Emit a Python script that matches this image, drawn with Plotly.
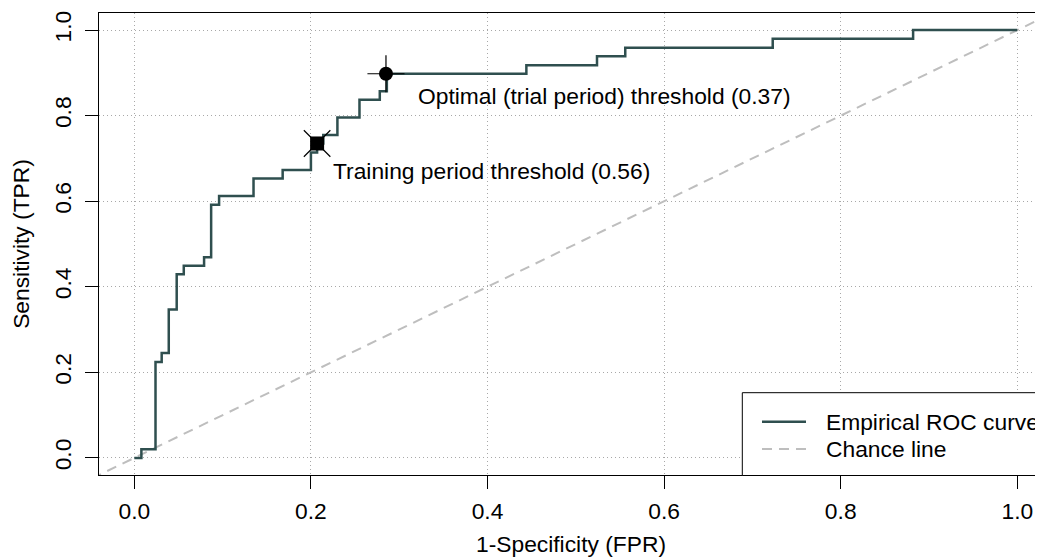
import plotly.graph_objects as go

# ---- data ----
roc_fpr = [0.000, 0.008, 0.024, 0.031, 0.039, 0.048, 0.056, 0.079, 0.087, 0.096,
           0.135, 0.168, 0.200, 0.207, 0.214, 0.230, 0.255, 0.278, 0.286,
           0.444, 0.524, 0.556, 0.723, 0.882, 1.000]
roc_tpr = [0.000, 0.020, 0.224, 0.245, 0.347, 0.429, 0.449, 0.469, 0.592, 0.612,
           0.653, 0.673, 0.714, 0.735, 0.755, 0.796, 0.837, 0.857, 0.898,
           0.918, 0.939, 0.959, 0.980, 1.000, 1.000]

chance = [-0.1, 1.1]

optimal_point = [0.285, 0.898]
training_point = [0.207, 0.735]
optimal_label = "Optimal (trial period) threshold (0.37)"
training_label = "Training period threshold (0.56)"

tick_vals = [0.0, 0.2, 0.4, 0.6, 0.8, 1.0]
tick_text = ["0.0", "0.2", "0.4", "0.6", "0.8", "1.0"]

legend_names = ["Empirical ROC curve", "Chance line"]

# ---- style ----
FONT = "Liberation Sans, Arial, Helvetica, sans-serif"
FS = 22.8
CURVE = "#2F4F4F"
CHANCE = "#BEBEBE"
GRID = "#a8a8a8"

# page has an 8px body margin: size the figure so it fills the 1043x557 window
OFF = 8
W, H = 1043 - OFF, 557 - OFF
ML, MR, MT, MB = 91, 0, 5, 82
pw, ph = W - ML - MR, H - MT - MB

fig = go.Figure()

fig.add_trace(go.Scatter(x=chance, y=chance, mode="lines",
                         line=dict(color=CHANCE, width=2, dash="10px,7px"),
                         showlegend=False, hoverinfo="skip"))
fig.add_trace(go.Scatter(x=roc_fpr, y=roc_tpr, mode="lines", line_shape="hv",
                         line=dict(color=CURVE, width=2.5), showlegend=False))

# optimal threshold: filled circle + thin cross
fig.add_trace(go.Scatter(x=[optimal_point[0]], y=[optimal_point[1]], mode="markers",
                         marker=dict(symbol="circle", size=14, color="black"),
                         showlegend=False))
fig.add_trace(go.Scatter(x=[optimal_point[0]], y=[optimal_point[1]], mode="markers",
                         marker=dict(symbol="cross-thin", size=26.5,
                                     line=dict(color="black", width=1.2)),
                         showlegend=False))
# training threshold: filled square + thin x
fig.add_trace(go.Scatter(x=[training_point[0]], y=[training_point[1]], mode="markers",
                         marker=dict(symbol="square", size=14, color="black"),
                         showlegend=False))
fig.add_trace(go.Scatter(x=[training_point[0]], y=[training_point[1]], mode="markers",
                         marker=dict(symbol="x-thin", size=26.5,
                                     line=dict(color="black", width=1.2)),
                         showlegend=False))

annotations = [
    dict(x=0.319, y=0.845, xref="x", yref="y", text=optimal_label, showarrow=False,
         xanchor="left", yanchor="middle", font=dict(family=FONT, size=FS, color="black")),
    dict(x=0.2225, y=0.670, xref="x", yref="y", text=training_label, showarrow=False,
         xanchor="left", yanchor="middle", font=dict(family=FONT, size=FS, color="black")),
]


def px_x(p):  # page pixel -> paper
    return (p - OFF - ML) / pw


def px_y(p):
    return (H - MB - (p - OFF)) / ph


# ---- manual legend (box with left/top border, bottom on axis) ----
shapes = [
    dict(type="rect", xref="paper", yref="paper", x0=px_x(742.3), x1=1.05,
         y0=px_y(475.5), y1=px_y(392.7), line=dict(color="black", width=1),
         fillcolor="white", layer="above"),
    dict(type="line", xref="paper", yref="paper", x0=px_x(762), x1=px_x(806),
         y0=px_y(421.7), y1=px_y(421.7), line=dict(color=CURVE, width=2.5), layer="above"),
    dict(type="line", xref="paper", yref="paper", x0=px_x(762), x1=px_x(806),
         y0=px_y(449), y1=px_y(449), line=dict(color=CHANCE, width=2, dash="10px,7px"),
         layer="above"),
]
for name, yy in zip(legend_names, [421.7, 449]):
    annotations.append(dict(x=px_x(824), y=px_y(yy), xref="paper", yref="paper",
                            text=name, showarrow=False, xanchor="left", yanchor="middle",
                            font=dict(family=FONT, size=FS, color="black")))

axis_common = dict(
    tickvals=tick_vals, ticktext=tick_text, ticks="outside", ticklen=13, tickwidth=1,
    tickcolor="black", showline=True, linecolor="black", linewidth=1,
    showgrid=True, gridcolor=GRID, gridwidth=1, griddash="1px,3px", zeroline=False,
    tickfont=dict(family=FONT, size=FS, color="black"),
)

fig.update_layout(
    width=W, height=H, margin=dict(l=ML, r=MR, t=MT, b=MB, autoexpand=False),
    paper_bgcolor="white", plot_bgcolor="white",
    font=dict(family=FONT, size=FS, color="black"),
    xaxis=dict(range=[-0.04, 1.0291], mirror=True, ticklabelstandoff=3,
               title=dict(text="1-Specificity (FPR)", standoff=19,
                          font=dict(family=FONT, size=FS, color="black")),
               automargin=False, **axis_common),
    yaxis=dict(range=[-0.04, 1.04], mirror=False, tickangle=-90, ticklabelstandoff=5,
               title=dict(text="Sensitivity (TPR)", standoff=18,
                          font=dict(family=FONT, size=FS, color="black")),
               automargin=False, **axis_common),
    annotations=annotations, shapes=shapes, showlegend=False,
)

fig.write_html("out.html")
